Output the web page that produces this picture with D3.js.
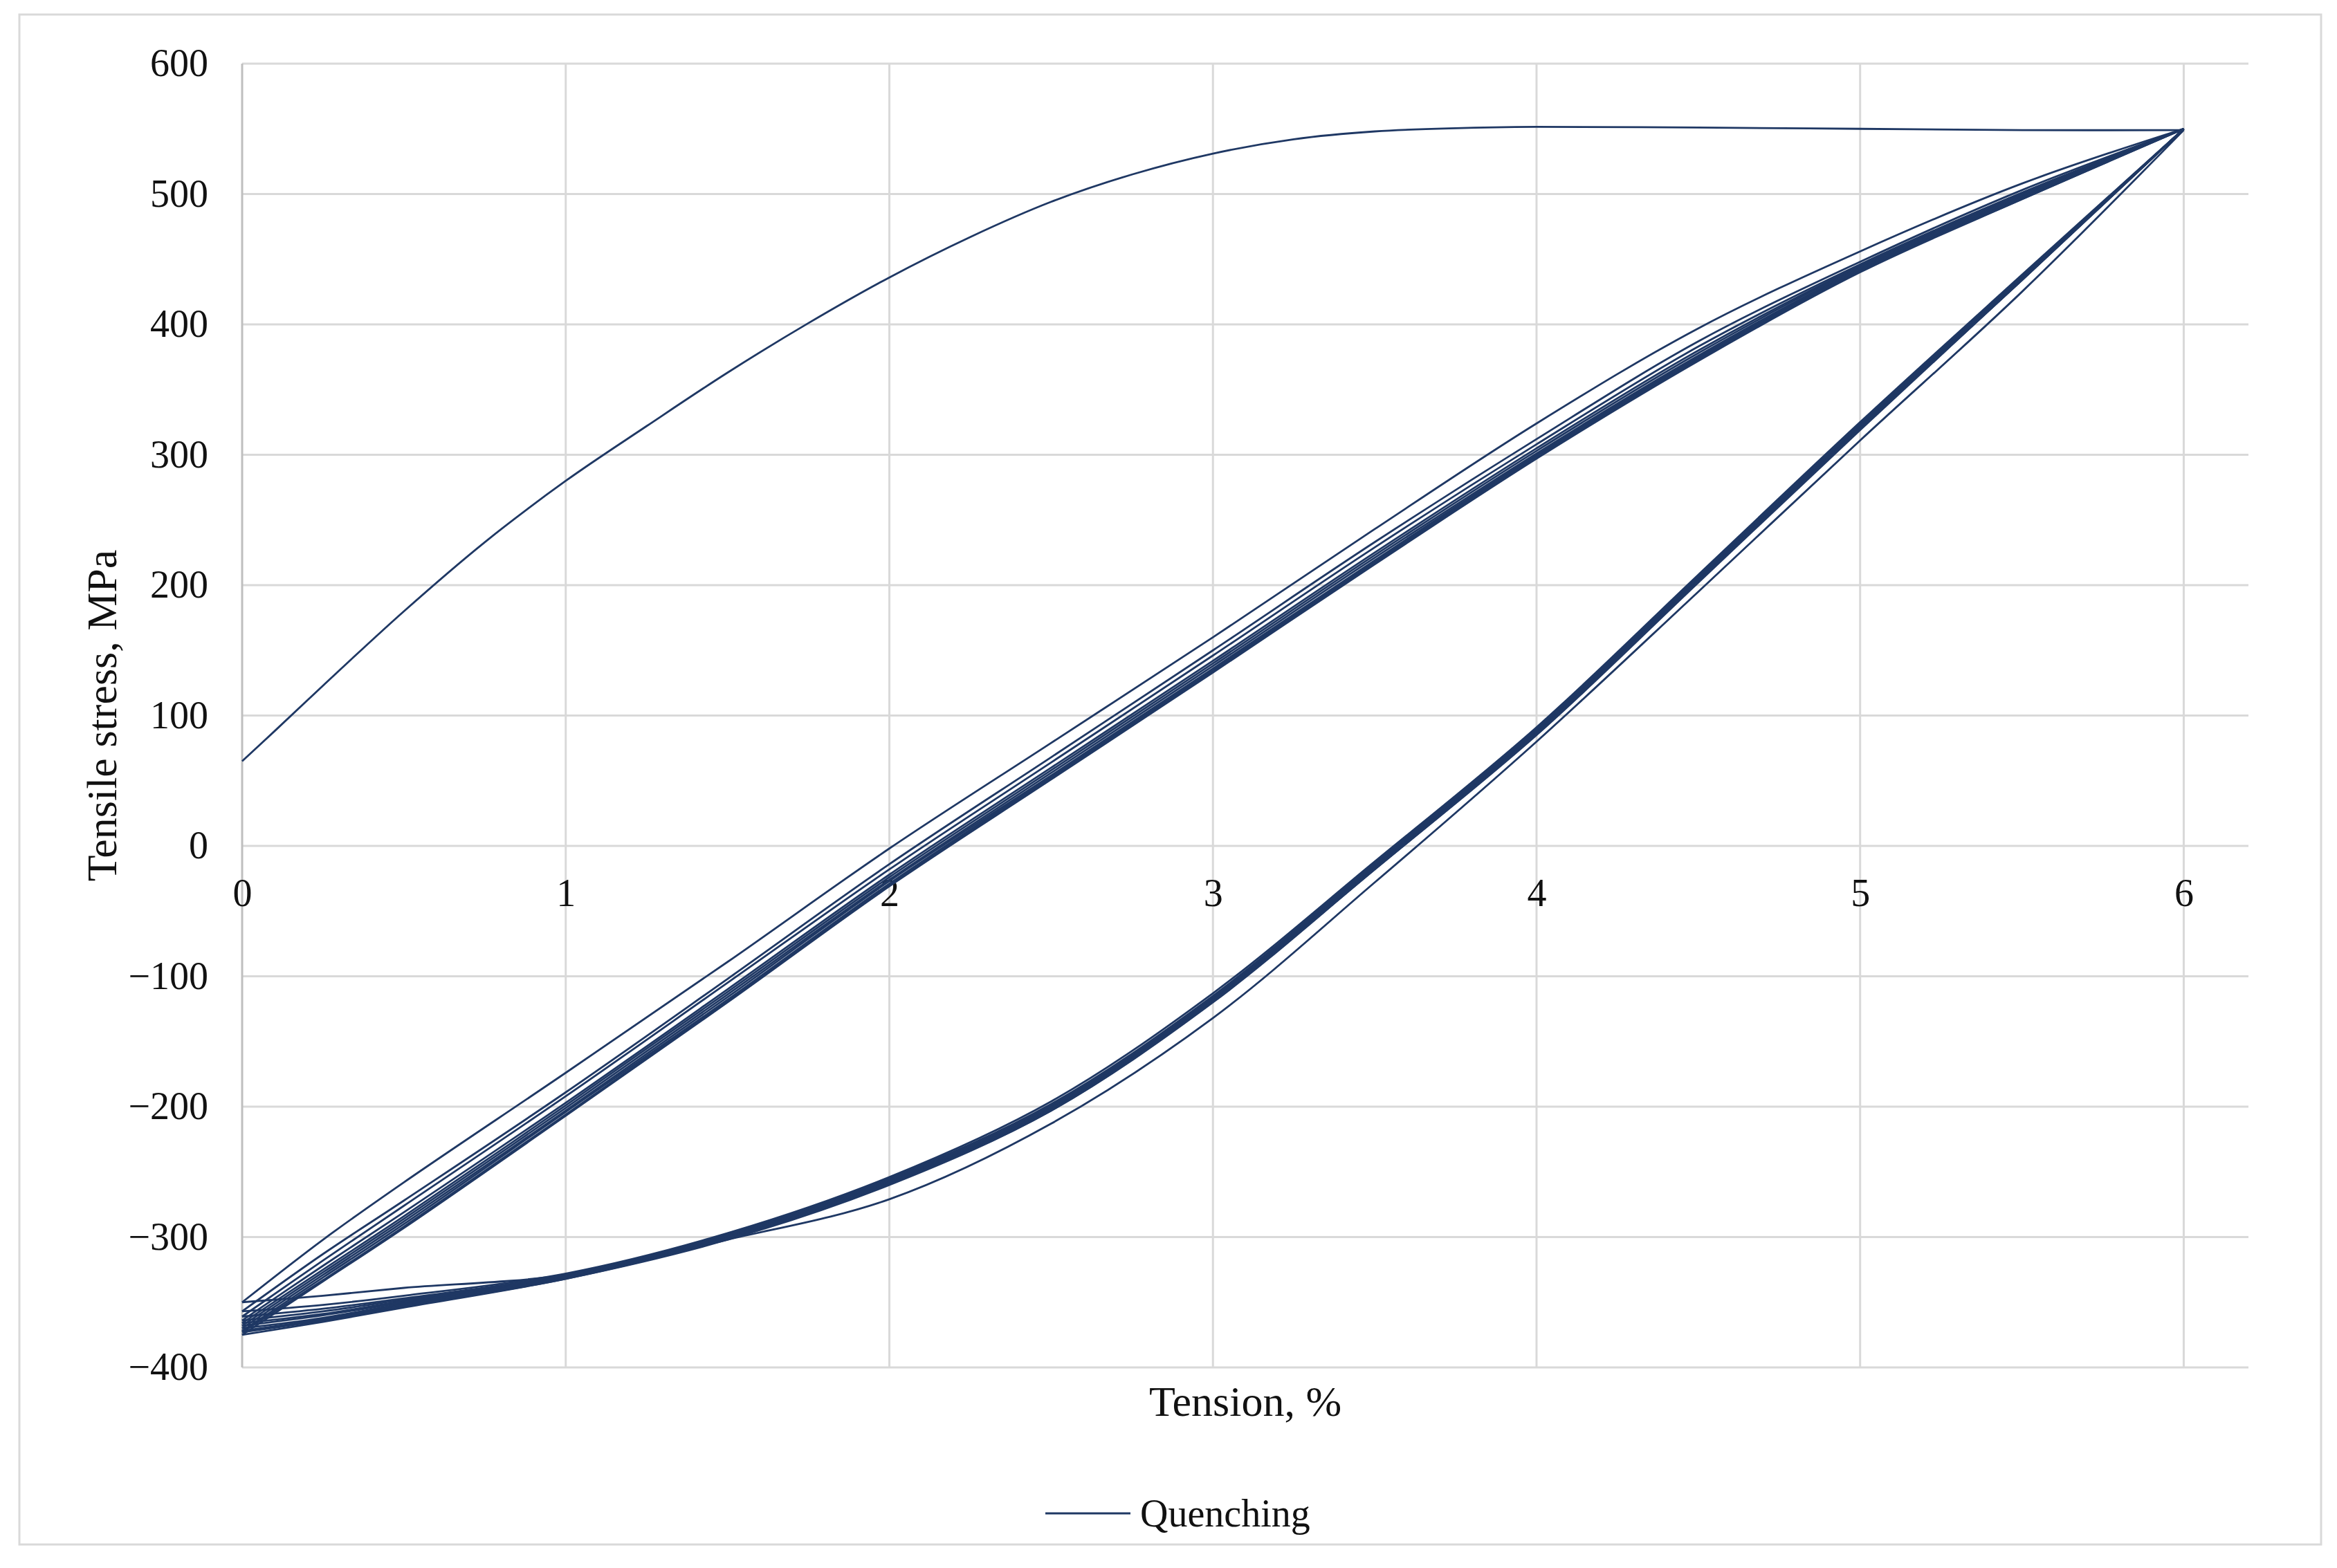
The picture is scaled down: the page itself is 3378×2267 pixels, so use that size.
<!DOCTYPE html>
<html>
<head>
<meta charset="utf-8">
<script src="https://cdn.jsdelivr.net/npm/d3@7"></script>
<style>
  html, body { margin: 0; padding: 0; background: #fff; }
  svg { display: block; }
</style>
</head>
<body>
<div id="chart"></div>
<script>
// first (monotonic) loading
const loadStrain = [0, 0.1, 0.25, 0.5, 0.75, 1, 1.25, 1.5, 1.75, 2, 2.25, 2.5, 2.75, 3, 3.25, 3.5, 3.75, 4, 4.5, 5, 5.5, 6]
const loadStress = [65, 88, 123, 180, 233, 280, 322, 363, 401, 436, 467, 494, 515, 531, 542, 548, 550.5, 551.5, 551, 550, 549, 549]

// unloading branches, one row per cycle
const unloadStrain = [6, 5.5, 5, 4.5, 4, 3.5, 3, 2.5, 2, 1.5, 1, 0.5, 0.25, 0]
const unloadStress = [
  [549, 425, 311, 195, 80, -28, -132, -213, -271, -302, -329, -339, -345, -350],
  [550, 438, 325, 208, 91, -12, -113, -196, -254, -297, -328, -345, -352, -357],
  [550, 437, 324, 207, 90, -13, -115, -198, -255, -298, -329, -347, -355, -361],
  [550, 436, 323, 206, 89, -14, -116, -199, -256, -299, -329, -348, -357, -364],
  [550, 436, 322, 205, 88, -15, -117, -200, -257, -299, -330, -349, -359, -366],
  [550, 435, 321, 204, 87, -16, -118, -201, -258, -300, -330, -350, -360, -368],
  [550, 435, 321, 204, 87, -17, -118, -202, -258, -300, -331, -351, -362, -370],
  [550, 434, 320, 203, 86, -17, -119, -202, -259, -301, -331, -352, -363, -372],
  [550, 434, 320, 203, 86, -18, -119, -203, -259, -301, -332, -353, -364, -373],
  [550, 434, 319, 202, 85, -18, -120, -203, -260, -302, -332, -354, -365, -375]
]

// reloading branches, one row per cycle
const reloadStrain = [0, 0.25, 0.5, 1, 1.5, 2, 2.5, 3, 3.5, 4, 4.5, 5, 5.5, 6]
const reloadStress = [
  [-350, -302, -258, -174, -89, -2, 79, 160, 243, 324, 397, 456, 508, 550],
  [-357, -313, -272, -189, -102, -14, 68, 150, 233, 312, 387, 448, 503, 550],
  [-361, -318, -276, -192, -105, -18, 64, 146, 229, 308, 383, 446, 501, 550],
  [-364, -322, -281, -197, -110, -22, 60, 142, 225, 305, 380, 445, 500, 550],
  [-366, -325, -284, -199, -112, -24, 58, 140, 223, 303, 378, 444, 499, 550],
  [-368, -327, -286, -201, -114, -26, 56, 138, 221, 301, 376, 443, 498, 550],
  [-370, -329, -288, -203, -116, -27, 54, 136, 219, 300, 375, 442, 497, 550],
  [-372, -331, -290, -204, -118, -29, 53, 135, 218, 299, 374, 441, 497, 550],
  [-373, -333, -292, -206, -119, -30, 52, 134, 217, 298, 373, 441, 496, 550],
  [-375, -334, -293, -207, -120, -31, 51, 133, 216, 297, 372, 440, 496, 550]
]

const xTicks = [0, 1, 2, 3, 4, 5, 6]
const yTicks = [-400, -300, -200, -100, 0, 100, 200, 300, 400, 500, 600]
const xTitle = 'Tension, %'
const yTitle = 'Tensile stress, MPa'
const seriesName = 'Quenching'

const W = 3378, H = 2267
const area = { left: 350, top: 92, right: 3250, bottom: 1977 }
const lineColor = '#1F3864'
const gridColor = '#D9D9D9'
const font = '"Liberation Serif", "Times New Roman", serif'

const svg = d3.select('#chart').append('svg')
  .attr('width', W)
  .attr('height', H)
  .attr('viewBox', `0 0 ${W} ${H}`)

svg.append('rect')
  .attr('x', 0).attr('y', 0).attr('width', W).attr('height', H)
  .attr('fill', '#fff')

// chart border
svg.append('rect')
  .attr('x', 28).attr('y', 21)
  .attr('width', 3327).attr('height', 2212)
  .attr('fill', 'none')
  .attr('stroke', gridColor)
  .attr('stroke-width', 3)

const x = d3.scaleLinear().domain([0, 6.2]).range([area.left, area.right])
const y = d3.scaleLinear().domain([-400, 600]).range([area.bottom, area.top])

// grid
const grid = svg.append('g')
grid.selectAll('line.h')
  .data(yTicks)
  .join('line')
  .attr('class', 'h')
  .attr('x1', area.left).attr('x2', area.right)
  .attr('y1', d => y(d)).attr('y2', d => y(d))
  .attr('stroke', gridColor)
  .attr('stroke-width', 3)
grid.selectAll('line.v')
  .data(xTicks.filter(d => d > 0))
  .join('line')
  .attr('class', 'v')
  .attr('x1', d => x(d)).attr('x2', d => x(d))
  .attr('y1', area.top).attr('y2', area.bottom)
  .attr('stroke', gridColor)
  .attr('stroke-width', 3)
// vertical axis line
grid.append('line')
  .attr('x1', x(0)).attr('x2', x(0))
  .attr('y1', area.top).attr('y2', area.bottom)
  .attr('stroke', '#BFBFBF')
  .attr('stroke-width', 3)

// axes labels
const yAxis = svg.append('g')
  .attr('transform', `translate(${area.left},0)`)
  .call(d3.axisLeft(y).tickValues(yTicks).tickSize(0).tickPadding(49))
yAxis.select('.domain').remove()
yAxis.selectAll('text')
  .attr('font-family', font)
  .attr('font-size', 56)
  .attr('fill', '#111')

const xAxis = svg.append('g')
  .attr('transform', `translate(0,${y(0)})`)
  .call(d3.axisBottom(x).tickValues(xTicks).tickFormat(d3.format('d')).tickSize(0).tickPadding(47))
xAxis.select('.domain').remove()
xAxis.selectAll('text')
  .attr('font-family', font)
  .attr('font-size', 56)
  .attr('fill', '#111')

// titles
svg.append('text')
  .attr('x', (area.left + area.right) / 2)
  .attr('y', 2047)
  .attr('text-anchor', 'middle')
  .attr('font-family', font)
  .attr('font-size', 62)
  .attr('fill', '#111')
  .text(xTitle)

svg.append('text')
  .attr('transform', `translate(168,${(area.top + area.bottom) / 2}) rotate(-90)`)
  .attr('text-anchor', 'middle')
  .attr('font-family', font)
  .attr('font-size', 62)
  .attr('fill', '#111')
  .text(yTitle)

// curves
const branches = [d3.zip(loadStrain, loadStress)]
unloadStress.forEach((row, i) => {
  branches.push(d3.zip(unloadStrain, row))
  branches.push(d3.zip(reloadStrain, reloadStress[i]))
})

const line = d3.line()
  .x(d => x(d[0]))
  .y(d => y(d[1]))
  .curve(d3.curveCatmullRom.alpha(0.5))

svg.append('g')
  .selectAll('path')
  .data(branches)
  .join('path')
  .attr('d', line)
  .attr('fill', 'none')
  .attr('stroke', lineColor)
  .attr('stroke-width', 2.8)
  .attr('stroke-linejoin', 'round')

// legend
const legend = svg.append('g').attr('transform', 'translate(1511,2188)')
legend.append('line')
  .attr('x1', 0).attr('x2', 123)
  .attr('y1', 0).attr('y2', 0)
  .attr('stroke', lineColor)
  .attr('stroke-width', 3)
legend.append('text')
  .attr('x', 137)
  .attr('y', 19)
  .attr('font-family', font)
  .attr('font-size', 56)
  .attr('fill', '#111')
  .text(seriesName)
</script>
</body>
</html>
